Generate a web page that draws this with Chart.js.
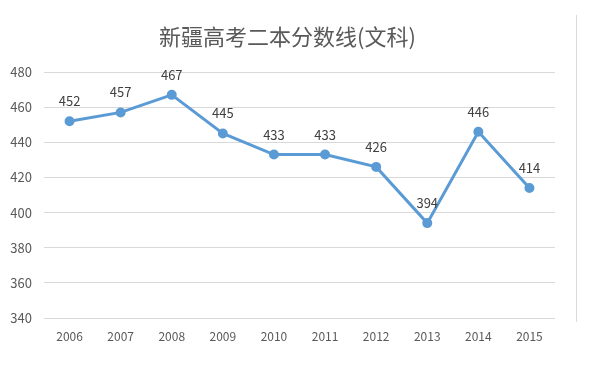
<!DOCTYPE html>
<html>
<head>
<meta charset="utf-8">
<script src="https://cdn.jsdelivr.net/npm/chart.js@4/dist/chart.umd.min.js"></script>
<style>
html,body{margin:0;padding:0;background:#fff;}
#wrap{width:594px;height:377px;position:relative;}
</style>
</head>
<body>
<div id="wrap"><canvas id="c" width="594" height="377"></canvas></div>
<script>
const titleText = "新疆高考二本分数线(文科)";
const years = ["2006","2007","2008","2009","2010","2011","2012","2013","2014","2015"];
const scores = [452, 457, 467, 445, 433, 433, 426, 394, 446, 414];
const yMin = 340, yMax = 480, yStep = 20;

const FONT = "'Noto Sans CJK SC', 'Noto Sans', sans-serif";

const labelPlugin = {
  id: 'valueLabels',
  afterDatasetsDraw(chart) {
    const ctx = chart.ctx;
    const meta = chart.getDatasetMeta(0);
    ctx.save();
    ctx.font = "13px " + FONT;
    ctx.fillStyle = "#404040";
    ctx.textAlign = "center";
    ctx.textBaseline = "middle";
    meta.data.forEach((pt, i) => {
      ctx.fillText(String(scores[i]), pt.x, pt.y - 20);
    });
    ctx.restore();
  }
};

const decorPlugin = {
  id: 'decor',
  afterDraw(chart) {
    const ctx = chart.ctx;
    ctx.save();
    ctx.strokeStyle = "#d9d9d9";
    ctx.lineWidth = 1;
    ctx.beginPath();
    ctx.moveTo(576.5, 15);
    ctx.lineTo(576.5, 322);
    ctx.stroke();
    ctx.font = "22px " + FONT;
    ctx.fillStyle = "#595959";
    ctx.textAlign = "center";
    ctx.textBaseline = "middle";
    ctx.fillText(titleText, 287.5, 37);
    ctx.restore();
  }
};

new Chart(document.getElementById('c'), {
  type: 'line',
  data: {
    labels: years,
    datasets: [{
      data: scores,
      borderColor: '#5B9BD5',
      backgroundColor: '#5B9BD5',
      borderWidth: 3,
      pointRadius: 3.5,
      pointBackgroundColor: '#5B9BD5',
      pointBorderColor: '#5B9BD5',
      tension: 0,
      fill: false
    }]
  },
  options: {
    responsive: false,
    animation: false,
    layout: { padding: { left: 0, right: 39, top: 72, bottom: 0 } },
    plugins: {
      legend: { display: false },
      tooltip: { enabled: false },
      title: { display: false }
    },
    scales: {
      x: {
        offset: true,
        grid: { display: false, drawTicks: false },
        border: { display: false },
        ticks: { color: '#595959', font: { family: FONT, size: 12 }, padding: 11, maxRotation: 0 },
        afterFit(scale) { scale.height = 59; }
      },
      y: {
        min: yMin, max: yMax,
        grid: { color: '#d9d9d9', drawTicks: false },
        border: { display: false },
        ticks: { stepSize: yStep, color: '#595959', font: { family: FONT, size: 13 }, padding: 12 },
        afterFit(scale) { scale.width = 44; }
      }
    }
  },
  plugins: [labelPlugin, decorPlugin]
});
</script>
</body>
</html>
